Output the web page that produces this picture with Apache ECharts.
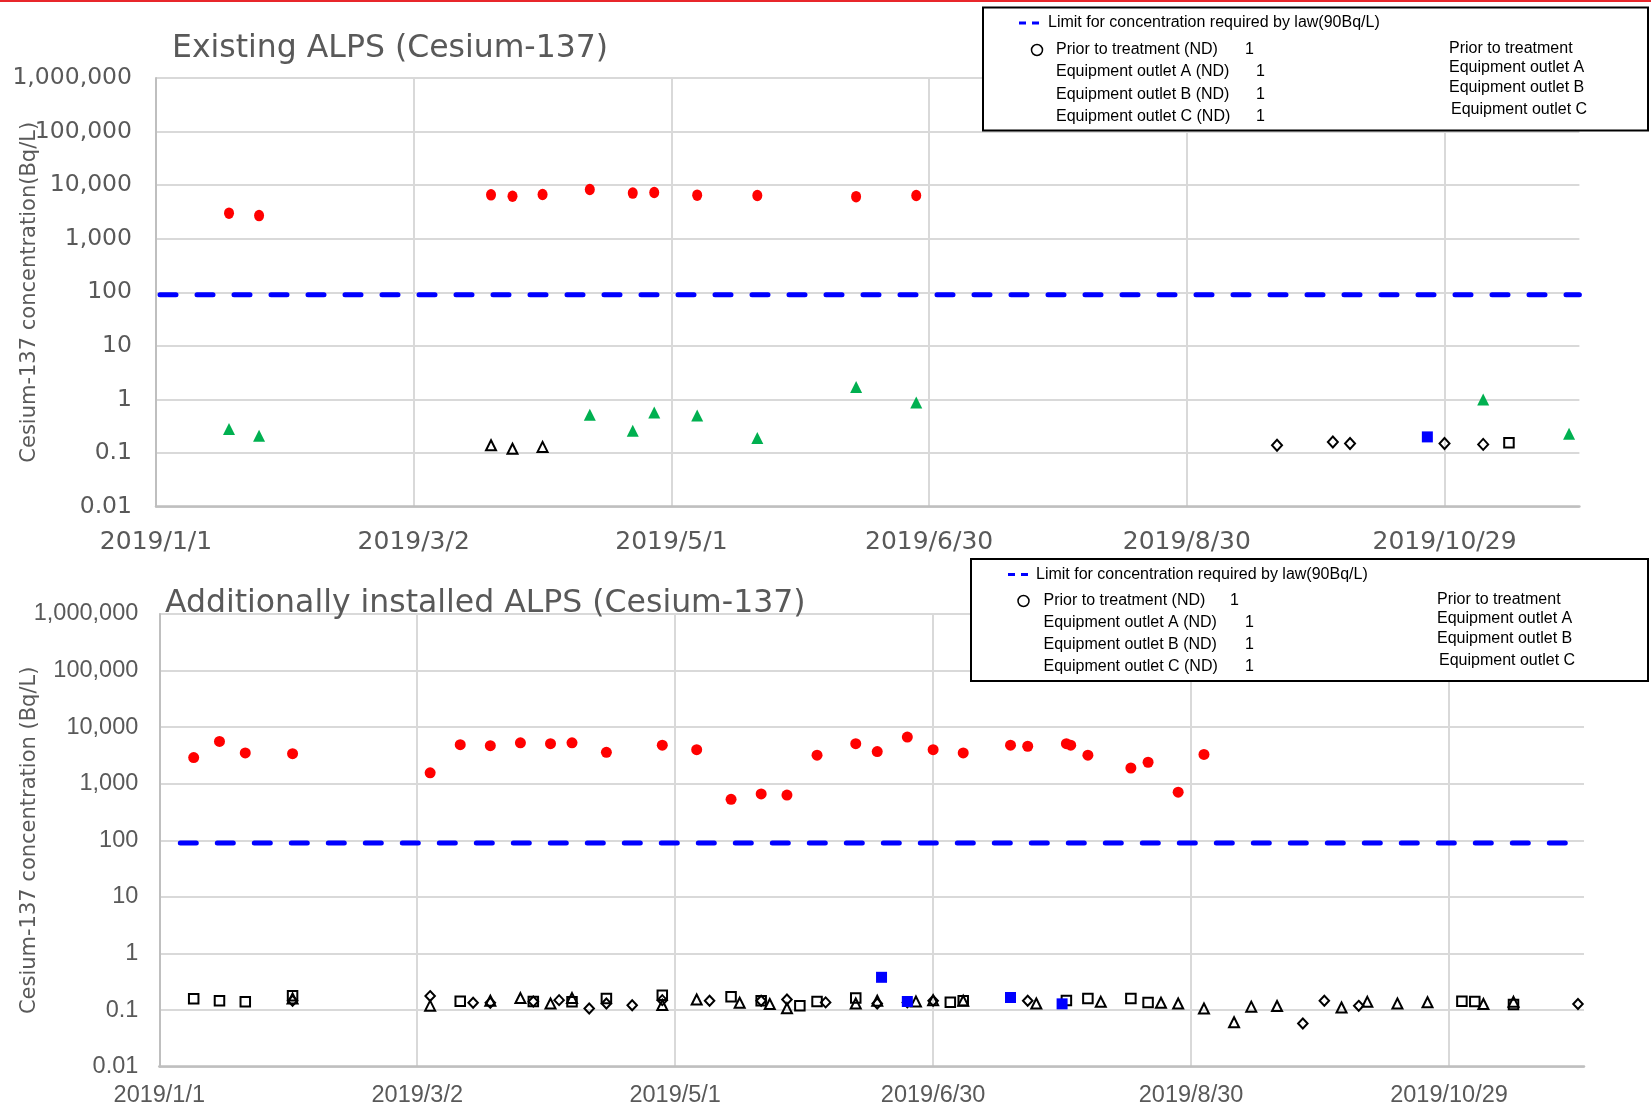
<!DOCTYPE html>
<html>
<head>
<meta charset="utf-8">
<title>ALPS Cesium-137</title>
<script src="https://cdn.jsdelivr.net/npm/echarts@6/dist/echarts.min.js"></script>
<style>
  html, body { margin: 0; padding: 0; background: #ffffff; }
  #chart { width: 1651px; height: 1108px; }
</style>
</head>
<body>
<div id="chart"></div>
<script>
// x axis counts days from 2019/1/1, with a gridline every 60 days
const xTickLabels = ['2019/1/1', '2019/3/2', '2019/5/1', '2019/6/30', '2019/8/30', '2019/10/29'];
const yTickLabels = ['0.01', '0.1', '1', '10', '100', '1,000', '10,000', '100,000', '1,000,000'];
const legalLimit = 90; // Bq/L

// ---- Existing ALPS ----
const existingPrior = [
  ['2019-01-18', 3000], ['2019-01-25', 2700], ['2019-03-20', 6600], ['2019-03-25', 6200],
  ['2019-04-01', 6700], ['2019-04-12', 8300], ['2019-04-22', 7100], ['2019-04-27', 7300],
  ['2019-05-07', 6500], ['2019-05-21', 6400], ['2019-06-13', 6100], ['2019-06-27', 6400]
];
const existingOutletA = [
  ['2019-01-18', 0.28], ['2019-01-25', 0.21], ['2019-04-12', 0.52], ['2019-04-22', 0.26],
  ['2019-04-27', 0.57], ['2019-05-07', 0.5], ['2019-05-21', 0.19], ['2019-06-13', 1.7],
  ['2019-06-27', 0.88], ['2019-11-06', 1.0], ['2019-11-26', 0.23]
];
const existingOutletB = [['2019-10-24', 0.2]];
const existingOutletAND = [['2019-03-20', 0.14], ['2019-03-25', 0.12], ['2019-04-01', 0.13]];
const existingOutletBND = [['2019-11-12', 0.155]];
const existingOutletCND = [
  ['2019-09-19', 0.14], ['2019-10-02', 0.16], ['2019-10-06', 0.15], ['2019-10-28', 0.15], ['2019-11-06', 0.145]
];

// ---- Additionally installed ALPS ----
const additionalPrior = [
  ['2019-01-09', 2900], ['2019-01-15', 5600], ['2019-01-21', 3500], ['2019-02-01', 3400],
  ['2019-03-05', 1560], ['2019-03-12', 4900], ['2019-03-19', 4700], ['2019-03-26', 5300],
  ['2019-04-02', 5100], ['2019-04-07', 5300], ['2019-04-15', 3600], ['2019-04-28', 4800],
  ['2019-05-06', 4000], ['2019-05-14', 530], ['2019-05-21', 660], ['2019-05-27', 630],
  ['2019-06-03', 3200], ['2019-06-12', 5100], ['2019-06-17', 3700], ['2019-06-24', 6700],
  ['2019-06-30', 4000], ['2019-07-07', 3500], ['2019-07-18', 4800], ['2019-07-22', 4600],
  ['2019-07-31', 5100], ['2019-08-01', 4800], ['2019-08-05', 3200], ['2019-08-15', 1900],
  ['2019-08-19', 2400], ['2019-08-26', 710], ['2019-09-01', 3300]
];
const additionalOutletB = [['2019-06-18', 0.38], ['2019-06-24', 0.142], ['2019-07-18', 0.167], ['2019-07-30', 0.129]];
const additionalOutletAND = [
  ['2019-02-01', 0.16], ['2019-03-05', 0.12], ['2019-03-19', 0.146], ['2019-03-26', 0.163],
  ['2019-04-02', 0.131], ['2019-04-07', 0.163], ['2019-04-28', 0.123], ['2019-05-06', 0.154],
  ['2019-05-16', 0.135], ['2019-05-23', 0.128], ['2019-05-27', 0.108], ['2019-06-12', 0.131],
  ['2019-06-17', 0.146], ['2019-06-26', 0.142], ['2019-06-30', 0.15], ['2019-07-07', 0.146],
  ['2019-07-24', 0.131], ['2019-08-08', 0.14], ['2019-08-22', 0.135], ['2019-08-26', 0.131],
  ['2019-09-01', 0.107], ['2019-09-08', 0.061], ['2019-09-12', 0.115], ['2019-09-18', 0.118],
  ['2019-10-03', 0.111], ['2019-10-09', 0.14], ['2019-10-16', 0.131], ['2019-10-23', 0.138],
  ['2019-11-05', 0.128], ['2019-11-12', 0.14]
];
const additionalOutletBND = [
  ['2019-01-09', 0.158], ['2019-01-15', 0.146], ['2019-01-21', 0.14], ['2019-02-01', 0.18],
  ['2019-03-12', 0.144], ['2019-03-29', 0.142], ['2019-04-07', 0.14], ['2019-04-15', 0.16],
  ['2019-04-28', 0.184], ['2019-05-14', 0.172], ['2019-05-21', 0.146], ['2019-05-30', 0.119],
  ['2019-06-03', 0.142], ['2019-06-12', 0.163], ['2019-07-04', 0.138], ['2019-07-07', 0.146],
  ['2019-07-31', 0.148], ['2019-08-05', 0.161], ['2019-08-15', 0.161], ['2019-08-19', 0.137],
  ['2019-10-31', 0.144], ['2019-11-03', 0.142], ['2019-11-12', 0.126]
];
const additionalOutletCND = [
  ['2019-02-01', 0.146], ['2019-03-05', 0.177], ['2019-03-15', 0.135], ['2019-03-19', 0.135],
  ['2019-03-29', 0.142], ['2019-04-04', 0.15], ['2019-04-11', 0.107], ['2019-04-15', 0.131],
  ['2019-04-21', 0.122], ['2019-04-28', 0.15], ['2019-05-09', 0.146], ['2019-05-21', 0.146],
  ['2019-05-27', 0.154], ['2019-06-05', 0.137], ['2019-06-17', 0.131], ['2019-06-24', 0.137],
  ['2019-06-30', 0.146], ['2019-07-22', 0.146], ['2019-09-24', 0.058], ['2019-09-29', 0.146],
  ['2019-10-07', 0.119], ['2019-11-27', 0.128]
];

const legendLeftLabels = ['Prior to treatment (ND)', 'Equipment outlet A (ND)', 'Equipment outlet B (ND)', 'Equipment outlet C (ND)'];
const legendRightLabels = ['Prior to treatment', 'Equipment outlet A', 'Equipment outlet B', 'Equipment outlet C'];
const legendLimitLabel = 'Limit for concentration required by law(90Bq/L)';

const START = Date.UTC(2019, 0, 1);
function dayOf(s) {
  const p = s.split('-').map(Number);
  return (Date.UTC(p[0], p[1] - 1, p[2]) - START) / 86400000;
}
function toPoints(rows) { return rows.map(r => [dayOf(r[0]), r[1]]); }

const X_MAX = 331.4;
const GREY = '#595959';

function xAxisFor(idx, font, size, margin) {
  return {
    gridIndex: idx, type: 'value', min: 0, max: X_MAX, interval: 60,
    axisLine: { show: true, lineStyle: { color: '#bfbfbf', width: 2.5 } },
    axisTick: { show: false },
    splitLine: { show: true, showMaxLine: false, lineStyle: { color: '#d9d9d9', width: 2 } },
    axisLabel: {
      show: true, margin: margin, showMaxLabel: false, hideOverlap: false,
      color: GREY, fontFamily: font, fontSize: size,
      formatter: v => {
        const i = Math.round(v / 60);
        return Math.abs(v - i * 60) < 1e-6 && xTickLabels[i] ? xTickLabels[i] : '';
      }
    }
  };
}
function yAxisFor(idx, font, size, margin, name, nameGap) {
  return {
    gridIndex: idx, type: 'log', logBase: 10, min: 0.01, max: 1000000, splitNumber: 8,
    axisLine: { show: true, lineStyle: { color: '#bfbfbf', width: 2 } },
    axisTick: { show: false },
    splitLine: { show: true, lineStyle: { color: '#d9d9d9', width: 2 } },
    axisLabel: {
      show: true, margin: margin, color: GREY, fontFamily: font, fontSize: size, hideOverlap: false,
      formatter: v => yTickLabels[Math.round(Math.log10(v)) + 2] || ''
    },
    name: name, nameLocation: 'middle', nameRotate: 90, nameGap: nameGap, nameMoveOverlap: false,
    nameTextStyle: { color: GREY, fontFamily: 'DejaVu Sans', fontSize: 21 }
  };
}

function limitSeries(idx, dashOffset) {
  return {
    type: 'line', xAxisIndex: idx, yAxisIndex: idx, silent: true, symbol: 'none', z: 3,
    data: [[0, legalLimit], [X_MAX, legalLimit]],
    lineStyle: { color: '#0000ff', width: 5, type: [16, 21], dashOffset: dashOffset, cap: 'round' }
  };
}
function filled(idx, name, rows, symbol, size, color) {
  return {
    type: 'scatter', name: name, xAxisIndex: idx, yAxisIndex: idx, z: 5,
    symbol: symbol, symbolSize: size, data: toPoints(rows),
    itemStyle: { color: color, opacity: 1 }
  };
}
function hollow(idx, name, rows, symbol, size) {
  return {
    type: 'scatter', name: name, xAxisIndex: idx, yAxisIndex: idx, z: 4,
    symbol: symbol, symbolSize: size, data: toPoints(rows),
    itemStyle: { color: 'transparent', borderColor: '#000000', borderWidth: 2, opacity: 1 }
  };
}

// Legend box drawn with graphic elements, kept above the plot area
function legendBox(b) {
  const font = '16px "Liberation Sans", Arial, sans-serif';
  const Z = 100;
  const els = [];
  els.push({ type: 'rect', z: Z, shape: { x: b.x, y: b.y, width: b.w, height: b.h },
    style: { fill: '#ffffff', stroke: '#000000', lineWidth: 2 } });
  els.push({ type: 'line', z: Z + 1, shape: { x1: b.dashX1, y1: b.limitY, x2: b.dashX2, y2: b.limitY },
    style: { stroke: '#0000ff', lineWidth: 3, lineDash: [7, 6] } });
  els.push({ type: 'text', z: Z + 1, style: { text: legendLimitLabel, x: b.limitX, y: b.limitY, font: font, fill: '#000', verticalAlign: 'middle', align: 'left' } });
  els.push({ type: 'circle', z: Z + 1, shape: { cx: b.circleX, cy: b.rowsY[0], r: 5.5 },
    style: { fill: 'none', stroke: '#000000', lineWidth: 1.5 } });
  legendLeftLabels.forEach((t, i) => {
    els.push({ type: 'text', z: Z + 1, style: { text: t, x: b.leftX, y: b.rowsY[i], font: font, fill: '#000', verticalAlign: 'middle', align: 'left' } });
    els.push({ type: 'text', z: Z + 1, style: { text: '1', x: i === 0 ? b.oneX0 : b.oneX, y: b.rowsY[i], font: font, fill: '#000', verticalAlign: 'middle', align: 'left' } });
  });
  legendRightLabels.forEach((t, i) => {
    els.push({ type: 'text', z: Z + 1, style: { text: t, x: b.rightX[i], y: b.rightY[i], font: font, fill: '#000', verticalAlign: 'middle', align: 'left' } });
  });
  return els;
}

const chart = echarts.init(document.getElementById('chart'), null, { renderer: 'canvas' });

const option = {
  animation: false,
  backgroundColor: '#ffffff',
  title: [
    { text: 'Existing ALPS (Cesium-137)', left: 172, top: 32.5, padding: 0,
      textStyle: { fontFamily: 'DejaVu Sans', fontSize: 31.5, fontWeight: 'normal', color: GREY } },
    { text: 'Additionally installed ALPS (Cesium-137)', left: 165, top: 587.5, padding: 0,
      textStyle: { fontFamily: 'DejaVu Sans', fontSize: 31.5, fontWeight: 'normal', color: GREY } }
  ],
  grid: [
    { left: 156, top: 78, width: 1423.4, height: 428.6, containLabel: false, outerBoundsMode: 'none' },
    { left: 159.3, top: 614, width: 1424.7, height: 452.7, containLabel: false, outerBoundsMode: 'none' }
  ],
  xAxis: [
    xAxisFor(0, 'DejaVu Sans', 25, 23),
    xAxisFor(1, 'Liberation Sans', 23.5, 17)
  ],
  yAxis: [
    yAxisFor(0, 'DejaVu Sans', 23.5, 24, 'Cesium-137 concentration(Bq/L)', 116),
    yAxisFor(1, 'Liberation Sans', 23.5, 21, 'Cesium-137 concentration (Bq/L)', 119)
  ],
  series: [
    limitSeries(0, 33),
    hollow(0, 'Equipment outlet A (ND)', existingOutletAND, 'triangle', [10, 10]),
    hollow(0, 'Equipment outlet B (ND)', existingOutletBND, 'rect', 9.5),
    hollow(0, 'Equipment outlet C (ND)', existingOutletCND, 'diamond', [10, 11]),
    filled(0, 'Prior to treatment', existingPrior, 'circle', [10, 11.5], '#ff0000'),
    filled(0, 'Equipment outlet A', existingOutletA, 'triangle', 12, '#00b050'),
    filled(0, 'Equipment outlet B', existingOutletB, 'rect', 11, '#0000ff'),

    limitSeries(1, 16),
    hollow(1, 'Equipment outlet A (ND)', additionalOutletAND, 'triangle', [10, 10]),
    hollow(1, 'Equipment outlet B (ND)', additionalOutletBND, 'rect', 9.5),
    hollow(1, 'Equipment outlet C (ND)', additionalOutletCND, 'diamond', [9.5, 10]),
    filled(1, 'Prior to treatment', additionalPrior, 'circle', 11, '#ff0000'),
    filled(1, 'Equipment outlet B', additionalOutletB, 'rect', 11, '#0000ff')
  ],
  graphic: [
    { type: 'rect', z: 100, shape: { x: 0, y: 0, width: 1651, height: 2 }, style: { fill: '#e8262b' } }
  ].concat(
    legendBox({ x: 983, y: 7.5, w: 665, h: 123, dashX1: 1019, dashX2: 1041, limitX: 1048, limitY: 23,
      circleX: 1037, leftX: 1056, rowsY: [50, 72, 94.5, 117], oneX0: 1245, oneX: 1256,
      rightX: [1449, 1449, 1449, 1451], rightY: [49, 68, 88, 110] }),
    legendBox({ x: 971, y: 559, w: 677, h: 122, dashX1: 1008, dashX2: 1030, limitX: 1036, limitY: 574.5,
      circleX: 1023.5, leftX: 1043.5, rowsY: [601, 623, 645, 667], oneX0: 1230, oneX: 1245,
      rightX: [1437, 1437, 1437, 1439], rightY: [600, 619, 639, 661] })
  )
};

chart.setOption(option);
</script>
</body>
</html>
